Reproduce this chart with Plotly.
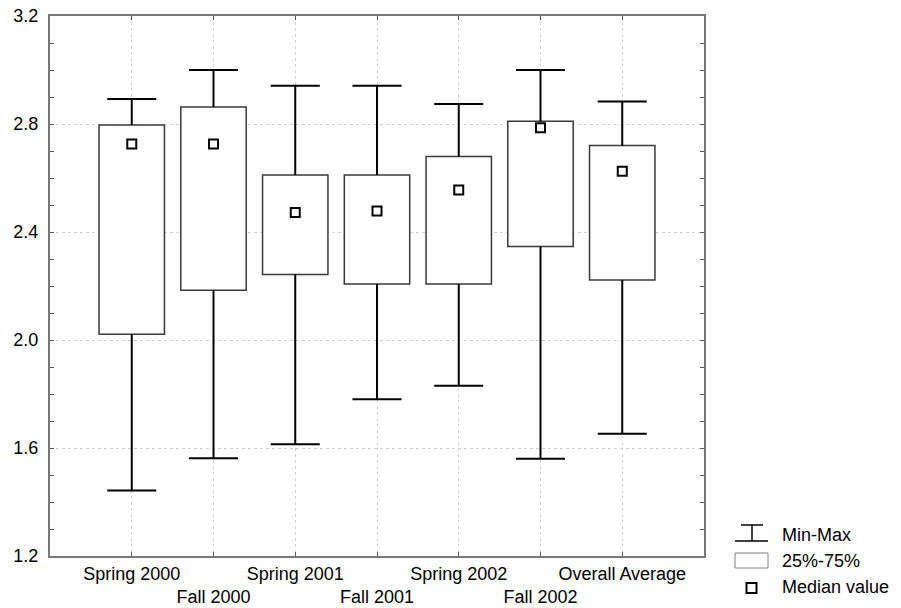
import plotly.graph_objects as go

categories = ["Spring 2000", "Fall 2000", "Spring 2001", "Fall 2001",
              "Spring 2002", "Fall 2002", "Overall Average"]
min_vals = [1.443, 1.562, 1.614, 1.781, 1.831, 1.560, 1.653]
q1_vals = [2.021, 2.184, 2.243, 2.207, 2.207, 2.346, 2.222]
median_vals = [2.726, 2.726, 2.472, 2.478, 2.556, 2.786, 2.625]
q3_vals = [2.796, 2.863, 2.611, 2.611, 2.680, 2.810, 2.720]
max_vals = [2.893, 3.000, 2.942, 2.942, 2.874, 3.000, 2.883]
y_ticks = [1.2, 1.6, 2.0, 2.4, 2.8, 3.2]

FONT = "Liberation Sans, Arial, sans-serif"
FS = 18
pos = list(range(1, len(categories) + 1))
BOX_W = 0.8
CAP_HW = 0.3

fig = go.Figure()

# boxes (25%-75%)
fig.add_trace(go.Bar(
    x=pos, y=[q3 - q1 for q1, q3 in zip(q1_vals, q3_vals)], base=q1_vals,
    width=BOX_W, marker=dict(color="white", line=dict(color="#3a3a3a", width=1.5)),
    showlegend=False, hoverinfo="skip"))

# whiskers and caps
wx, wy = [], []
for p, lo, q1, q3, hi in zip(pos, min_vals, q1_vals, q3_vals, max_vals):
    wx += [p, p, None, p, p, None, p - CAP_HW, p + CAP_HW, None, p - CAP_HW, p + CAP_HW, None]
    wy += [q3, hi, None, q1, lo, None, hi, hi, None, lo, lo, None]
fig.add_trace(go.Scatter(x=wx, y=wy, mode="lines",
                         line=dict(color="black", width=2),
                         showlegend=False, hoverinfo="skip"))

# medians
fig.add_trace(go.Scatter(x=pos, y=median_vals, mode="markers",
                         marker=dict(symbol="square", size=9, color="white",
                                     line=dict(color="black", width=2)),
                         showlegend=False))

ticktext = [c if i % 2 == 0 else "<br>" + c for i, c in enumerate(categories)]

L, R, T, B = 50, 704, 16, 556
W, H = 901, 608


def px(x):
    return (x - L) / (R - L)


def py(y):
    return (B - y) / (B - T)


shapes = []
# legend: Min-Max symbol
shapes.append(dict(type="line", xref="paper", yref="paper", x0=px(741), x1=px(763), y0=py(525), y1=py(525), line=dict(color="black", width=1.5)))
shapes.append(dict(type="line", xref="paper", yref="paper", x0=px(735), x1=px(768), y0=py(541), y1=py(541), line=dict(color="black", width=1.5)))
shapes.append(dict(type="line", xref="paper", yref="paper", x0=px(752), x1=px(752), y0=py(525), y1=py(541), line=dict(color="black", width=1.5)))
# legend: box
shapes.append(dict(type="rect", xref="paper", yref="paper", x0=px(735), x1=px(768), y0=py(553), y1=py(568), line=dict(color="#808080", width=1), fillcolor="white"))
# legend: median square
shapes.append(dict(type="rect", xref="paper", yref="paper", x0=px(746.5), x1=px(756.5), y0=py(583), y1=py(593), line=dict(color="black", width=2), fillcolor="white"))

annotations = []
for txt, yc in [("Min-Max", 535), ("25%-75%", 560.5), ("Median value", 587)]:
    annotations.append(dict(text=txt, xref="paper", yref="paper", x=px(780), y=py(yc),
                            xanchor="left", yanchor="middle", showarrow=False,
                            font=dict(family=FONT, size=FS, color="black")))

fig.update_layout(
    width=W, height=H,
    margin=dict(l=L, r=W - R, t=T, b=H - B, pad=0, autoexpand=False),
    paper_bgcolor="white", plot_bgcolor="white",
    font=dict(family=FONT, size=FS, color="black"),
    showlegend=False,
    shapes=shapes, annotations=annotations,
    xaxis=dict(range=[0, len(categories) + 1], tickvals=pos, ticktext=ticktext,
               tickangle=0, automargin=False,
               showgrid=True, gridcolor="#d2d2d2", griddash="dot", gridwidth=1,
               ticks="inside", ticklen=4, tickcolor="#555", showline=True,
               linecolor="#777", linewidth=2, mirror="ticks", zeroline=False,
               tickfont=dict(family=FONT, size=FS, color="black")),
    yaxis=dict(range=[1.2, 3.2], tickvals=y_ticks, ticktext=[f"{v:.1f}" for v in y_ticks],
               automargin=False,
               showgrid=True, gridcolor="#d2d2d2", griddash="dot", gridwidth=1,
               ticks="inside", ticklen=4, tickcolor="#555", showline=True,
               linecolor="#777", linewidth=2, mirror="ticks", zeroline=False,
               minor=dict(dtick=0.1, tick0=1.2, ticks="inside", ticklen=4, tickcolor="#555", showgrid=False),
               ticklabelstandoff=6,
               tickfont=dict(family=FONT, size=FS, color="black")),
)

fig.write_html("out.html")
